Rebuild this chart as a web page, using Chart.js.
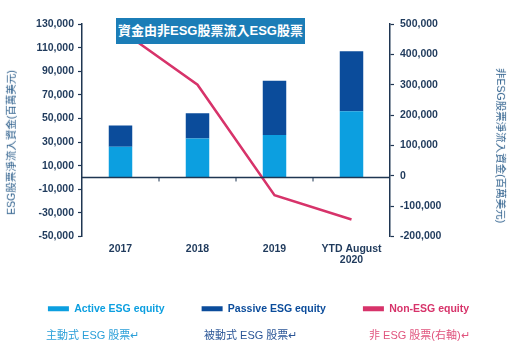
<!DOCTYPE html>
<html>
<head>
<meta charset="utf-8">
<script src="https://cdn.jsdelivr.net/npm/chart.js@4/dist/chart.umd.min.js"></script>
<style>
  html, body { margin: 0; padding: 0; background: #ffffff; }
  #wrap { position: relative; width: 517px; height: 357px; overflow: hidden; }
  canvas { position: absolute; left: 0; top: 0; }
  .note { position: absolute; font-family: "Liberation Sans", "Noto Sans CJK TC", sans-serif; white-space: nowrap; }
  #callout { left: 116px; top: 18px; width: 189px; height: 26px; background: #1b7db7; color: #ffffff;
             font-weight: bold; font-size: 13px; line-height: 26px; text-align: center;
             font-family: "Liberation Sans", "Noto Sans CJK TC", sans-serif; }
  .ytitle { font-size: 10.5px; color: #2d5f8c; transform-origin: center center; }
  .zh { font-size: 11px; top: 326px; font-family: "Liberation Sans", "Noto Sans CJK TC", sans-serif; }
</style>
</head>
<body>
<div id="wrap">
  <canvas id="c" width="517" height="357"></canvas>
  <div id="callout" class="note">資金由非ESG股票流入ESG股票</div>
  <div id="ltitle" class="note ytitle">ESG股票淨流入資金(百萬美元)</div>
  <div id="rtitle" class="note ytitle">非ESG股票淨流入資金(百萬美元)</div>
  <div class="note zh" style="left:46px;color:#2a9fd8;">主動式 ESG 股票↵</div>
  <div class="note zh" style="left:204px;color:#2a5596;">被動式 ESG 股票↵</div>
  <div class="note zh" style="left:369px;color:#e0547e;">非 ESG 股票(右軸)↵</div>
</div>
<script>
// ---- data ----
const categories = ['2017', '2018', '2019', ['YTD August', '2020']];
const activeESG = [26000, 33000, 36000, 56000];
const passiveESG = [18000, 21500, 46000, 51000];
const nonESG = [480000, 300000, -64000, -144000];
const seriesNames = ['Active ESG equity', 'Passive ESG equity', 'Non-ESG equity'];
const leftTicks = { min: -50000, max: 130000, step: 20000 };
const rightTicks = { min: -200000, max: 500000, step: 100000 };

// ---- styles ----
const C_ACTIVE = '#0c9fe0';
const C_PASSIVE = '#0b4c9b';
const C_LINE = '#d7336a';
const C_AXIS = '#1f3652';
const C_TICK = '#1f3a5c';
const tickFont = { family: '"Liberation Sans", Arial, sans-serif', size: 10.5, weight: 'bold' };

function placeTitle(id, cx, cy, deg) {
  const el = document.getElementById(id);
  const w = el.offsetWidth, h = el.offsetHeight;
  el.style.left = (cx - w / 2) + 'px';
  el.style.top = (cy - h / 2) + 'px';
  el.style.transform = 'rotate(' + deg + 'deg)';
}
placeTitle('ltitle', 10, 142, -90);
placeTitle('rtitle', 501, 145, 90);

const fmt = v => Number(v).toLocaleString('en-US');

const xBoundaryTicks = {
  id: 'xBoundaryTicks',
  afterDatasetsDraw(chart) {
    const x = chart.scales.x, y = chart.scales.y;
    const y0 = y.getPixelForValue(0);
    const ctx = chart.ctx;
    ctx.save();
    ctx.strokeStyle = C_AXIS;
    ctx.lineWidth = 1.5;
    ctx.beginPath();
    ctx.moveTo(chart.chartArea.left, y0);
    ctx.lineTo(chart.chartArea.right, y0);
    ctx.stroke();
    ctx.lineWidth = 1;
    for (let i = 1; i < categories.length; i++) {
      const bx = (x.getPixelForValue(i - 1) + x.getPixelForValue(i)) / 2;
      ctx.beginPath();
      ctx.moveTo(bx, y0);
      ctx.lineTo(bx, y0 + 4);
      ctx.stroke();
    }
    ctx.restore();
  }
};

new Chart(document.getElementById('c'), {
  type: 'bar',
  data: {
    labels: categories,
    datasets: [
      { label: seriesNames[0], data: activeESG, backgroundColor: C_ACTIVE, yAxisID: 'y', order: 1,
        barPercentage: 0.305, categoryPercentage: 1.0 },
      { label: seriesNames[1], data: passiveESG, backgroundColor: C_PASSIVE, yAxisID: 'y', order: 1,
        barPercentage: 0.305, categoryPercentage: 1.0 },
      { type: 'line', label: seriesNames[2], data: nonESG, borderColor: C_LINE, backgroundColor: C_LINE,
        borderWidth: 2.5, pointRadius: 0, tension: 0, yAxisID: 'y1', order: 0 }
    ]
  },
  options: {
    responsive: false,
    animation: false,
    devicePixelRatio: 1,
    layout: { padding: { top: 24, left: 0, right: 0, bottom: 33 } },
    plugins: {
      tooltip: { enabled: false },
      legend: {
        position: 'bottom',
        labels: {
          boxWidth: 21,
          boxHeight: 5,
          padding: 37,
          font: { family: '"Liberation Sans", Arial, sans-serif', size: 10.5, weight: 'bold' },
          generateLabels(chart) {
            const colors = [C_ACTIVE, C_PASSIVE, C_LINE];
            return chart.data.datasets.map((ds, i) => ({
              text: ds.label,
              fillStyle: colors[i],
              strokeStyle: colors[i],
              lineWidth: 0,
              fontColor: colors[i],
              hidden: false,
              datasetIndex: i
            }));
          }
        }
      }
    },
    scales: {
      x: {
        stacked: true,
        grid: { display: false, drawTicks: false },
        border: { display: false },
        ticks: { color: C_TICK, font: Object.assign({}, tickFont, { lineHeight: 1.05 }), padding: 7,
                 maxRotation: 0, autoSkip: false },
        afterFit(scale) { scale.height = 30; }
      },
      y: {
        type: 'linear',
        position: 'left',
        stacked: true,
        min: leftTicks.min,
        max: leftTicks.max,
        grid: { drawOnChartArea: false, drawTicks: true, tickLength: 4, tickColor: C_AXIS, tickWidth: 1.2 },
        border: { display: true, color: C_AXIS, width: 1.5 },
        ticks: { stepSize: leftTicks.step, color: C_TICK, font: tickFont, padding: 4, callback: fmt },
        afterFit(scale) { scale.width = 82; }
      },
      y1: {
        type: 'linear',
        position: 'right',
        min: rightTicks.min,
        max: rightTicks.max,
        grid: { drawOnChartArea: false, drawTicks: true, tickLength: 4, tickColor: C_AXIS, tickWidth: 1.2 },
        border: { display: true, color: C_AXIS, width: 1.5 },
        ticks: { stepSize: rightTicks.step, color: C_TICK, font: tickFont, padding: 6, callback: fmt },
        afterFit(scale) { scale.width = 127; }
      }
    }
  },
  plugins: [xBoundaryTicks]
});
</script>
</body>
</html>
